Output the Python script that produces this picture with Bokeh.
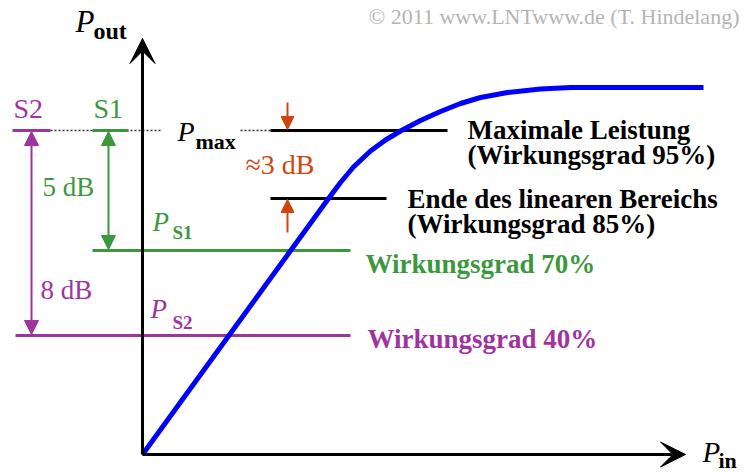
from bokeh.plotting import figure
from bokeh.models import Range1d, Arrow, NormalHead, VeeHead
from bokeh.embed import file_html
from bokeh.resources import INLINE
from bokeh.core.properties import value

# Amplifier transfer characteristic P_out(P_in), schematic units
p_in = [0, 186, 198, 211, 228, 243, 258, 278, 298, 318, 338, 365, 398, 428, 561]
p_out = [0, 256, 272, 287.5, 303.5, 314.5, 323.5, 334, 343, 351, 357, 362, 365.5, 367, 367]

# Output power levels
P_MAX = 324          # maximum output power
P_END_LINEAR = 256   # end of the linear region (about 3 dB below P_max)
P_S1 = 204           # operating point S1 (5 dB back-off)
P_S2 = 119           # operating point S2 (8 dB back-off)

# Annotation texts
note_max = ["Maximale Leistung", "(Wirkungsgrad 95%)"]
note_lin = ["Ende des linearen Bereichs", "(Wirkungsgrad 85%)"]
note_s1 = "Wirkungsgrad 70%"
note_s2 = "Wirkungsgrad 40%"
backoff_s1 = "5 dB"
backoff_s2 = "8 dB"
backoff_lin = "\u22483 dB"
copyright_note = "\u00a9 2011 www.LNTwww.de (T. Hindelang)"

GREEN = "#3c983c"
PURPLE = "#a0349e"
RED = "#d2440e"
BLUE = "#0000ff"
FONT = value("Liberation Serif")

p = figure(width=747, height=474, x_range=Range1d(-142, 605), y_range=Range1d(-20, 454),
           output_backend="svg", toolbar_location=None, min_border=0,
           x_axis_location=None, y_axis_location=None)
p.grid.visible = False
p.outline_line_color = None
p.background_fill_color = "white"
p.border_fill_color = "white"


def label(x, y, s, size, color="black", style="normal"):
    # y is the wanted baseline; lift by a third of the size to compensate
    # for the renderer's baseline placement
    p.text(x=[x], y=[y + 0.33 * size], text=[s], text_font=FONT,
           text_font_size=f"{size}px", text_font_style=style, text_color=color,
           text_align="left", text_baseline="alphabetic")


# coordinate axes with arrow heads
p.add_layout(Arrow(end=VeeHead(size=25, fill_color="black", line_color="black"),
                   x_start=0, y_start=0, x_end=0, y_end=416,
                   line_color="black", line_width=3))
p.add_layout(Arrow(end=VeeHead(size=25, fill_color="black", line_color="black"),
                   x_start=0, y_start=0, x_end=543, y_end=0,
                   line_color="black", line_width=3))

# dotted reference at P_max
p.segment(x0=[-92, 98], y0=[P_MAX, P_MAX], x1=[20, 128], y1=[P_MAX, P_MAX],
          line_color="#333333", line_width=1.5, line_dash="2 2")

# level lines
p.segment(x0=[128, 128], y0=[P_MAX, P_END_LINEAR], x1=[305, 244], y1=[P_MAX, P_END_LINEAR],
          line_color="black", line_width=3)
p.segment(x0=[-50, -50], y0=[P_S1, P_MAX], x1=[208, -14], y1=[P_S1, P_MAX],
          line_color=GREEN, line_width=3)
p.segment(x0=[-127, -130], y0=[P_S2, P_MAX], x1=[208, -92], y1=[P_S2, P_MAX],
          line_color=PURPLE, line_width=3)

# back-off arrows
for xa, lvl, col in [(-34, P_S1, GREEN), (-111, P_S2, PURPLE)]:
    p.add_layout(Arrow(start=NormalHead(size=14, fill_color=col, line_color=col),
                       end=NormalHead(size=14, fill_color=col, line_color=col),
                       x_start=xa, y_start=lvl + 1, x_end=xa, y_end=P_MAX - 1,
                       line_color=col, line_width=2))

p.add_layout(Arrow(end=NormalHead(size=13, fill_color=RED, line_color=RED),
                   x_start=145, y_start=P_MAX + 28, x_end=145, y_end=P_MAX + 1,
                   line_color=RED, line_width=2))
p.add_layout(Arrow(end=NormalHead(size=13, fill_color=RED, line_color=RED),
                   x_start=145, y_start=P_END_LINEAR - 34, x_end=145, y_end=P_END_LINEAR - 1,
                   line_color=RED, line_width=2))

# characteristic curve
p.line(p_in, p_out, line_color=BLUE, line_width=5, line_join="round")

# axis labels
label(-67, 423, "P", 31, style="italic")
label(-49, 416, "out", 24, style="bold")
label(560, -7, "P", 29, style="italic")
label(576, -13, "in", 22, style="bold")

# level labels
label(35, 314, "P", 28, style="italic")
label(53, 306, "max", 22, style="bold")
label(10, 224, "P", 27, color=GREEN, style="italic")
label(30, 216, "S1", 19, color=GREEN, style="bold")
label(8, 137, "P", 27, color=PURPLE, style="italic")
label(30, 126, "S2", 19, color=PURPLE, style="bold")

label(-129, 337, "S2", 28, color=PURPLE)
label(-49, 337, "S1", 28, color=GREEN)
label(-100, 259, backoff_s1, 27, color=GREEN)
label(-102, 156, backoff_s2, 27, color=PURPLE)
label(103, 281, backoff_lin, 28, color=RED)

# explanatory notes
label(325, 316, note_max[0], 27, style="bold")
label(325, 291, note_max[1], 27, style="bold")
label(265, 247, note_lin[0], 27, style="bold")
label(265, 222, note_lin[1], 27, style="bold")
label(223, 182, note_s1, 27, color=GREEN, style="bold")
label(225, 107, note_s2, 27, color=PURPLE, style="bold")

label(226, 431, copyright_note, 22, color="#b4b4b4")

open("out.html", "w").write(file_html(p, INLINE))
